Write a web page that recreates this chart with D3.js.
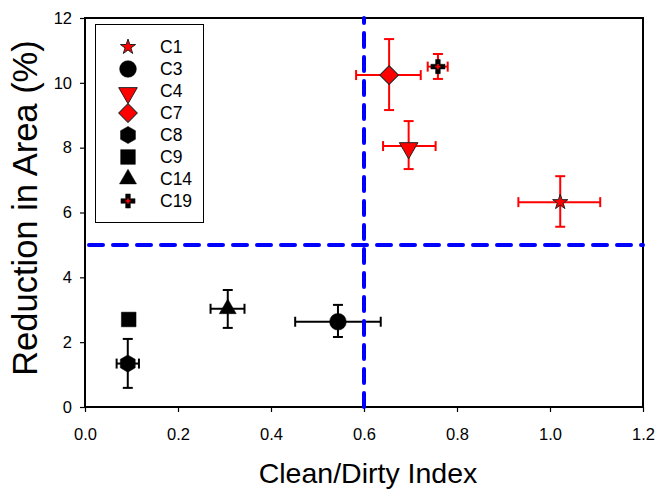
<!DOCTYPE html>
<html lang="en">
<head>
<meta charset="utf-8">
<title>Reduction in Area vs Clean/Dirty Index</title>
<script src="https://cdn.jsdelivr.net/npm/d3@7/dist/d3.min.js"></script>
<style>
  body { margin: 0; background: #fff; }
  text { font-family: "Liberation Sans", Arial, sans-serif; }
</style>
</head>
<body>
<div id="chart"></div>
<script>
// data
var names  = ["C1", "C3", "C4", "C7", "C8", "C9", "C14", "C19"];
var xVals  = [1.022, 0.544, 0.696, 0.654, 0.092, 0.094, 0.307, 0.759];
var yVals  = [6.32, 2.63, 8.05, 10.24, 1.34, 2.70, 3.03, 10.50];
var xLo    = [0.932, 0.452, 0.641, 0.583, 0.068, null, 0.270, 0.737];
var xHi    = [1.108, 0.636, 0.754, 0.722, 0.116, null, 0.343, 0.780];
var yLo    = [5.56, 2.16, 7.34, 9.16, 0.59, null, 2.44, 10.12];
var yHi    = [7.12, 3.15, 8.82, 11.35, 2.10, null, 3.61, 10.89];
var shapes = ["star", "circle", "tridown", "diamond", "hexagon", "square", "triangle", "cross"];
var groupColor = ["red", "black", "red", "red", "black", "black", "black", "red"];

var xTicks = [0.0, 0.2, 0.4, 0.6, 0.8, 1.0, 1.2];
var yTicks = [0, 2, 4, 6, 8, 10, 12];
var xCut = 0.6, yCut = 5;

var W = 657, H = 492;
var margin = {left: 85, right: 14, top: 18, bottom: 85};

var svg = d3.select("#chart").append("svg")
    .attr("width", W).attr("height", H);

var x = d3.scaleLinear().domain([0, 1.2]).range([margin.left, W - margin.right]);
var y = d3.scaleLinear().domain([0, 12]).range([H - margin.bottom, margin.top]);

// axes
var xAxis = svg.append("g")
    .attr("transform", "translate(0," + y(0) + ")")
    .call(d3.axisBottom(x).tickValues(xTicks).tickFormat(d3.format(".1f")).tickSize(5).tickPadding(16));
var yAxis = svg.append("g")
    .attr("transform", "translate(" + x(0) + ",0)")
    .call(d3.axisLeft(y).tickValues(yTicks).tickSize(5).tickPadding(8));
[xAxis, yAxis].forEach(function (a) {
    a.select(".domain").remove();
    a.selectAll("line").attr("stroke", "#000").attr("stroke-width", 1.2);
    a.selectAll("text").attr("font-size", 16.5).attr("fill", "#000")
        .attr("font-family", "Liberation Sans, Arial, sans-serif");
});

// frame
svg.append("rect")
    .attr("x", x(0)).attr("y", y(12))
    .attr("width", x(1.2) - x(0)).attr("height", y(0) - y(12))
    .attr("fill", "none").attr("stroke", "#000").attr("stroke-width", 2);

// axis titles
svg.append("text")
    .attr("x", 368).attr("y", 483)
    .attr("text-anchor", "middle").attr("font-size", 28.5)
    .text("Clean/Dirty Index");
svg.append("text")
    .attr("transform", "translate(37,208) rotate(-90)")
    .attr("text-anchor", "middle").attr("font-size", 34.5)
    .text("Reduction in Area (%)");

// marker shapes
var symSize = {
    star: [d3.symbolStar, 72],
    circle: [d3.symbolCircle, 220],
    tridown: [d3.symbolTriangle, 150],
    triangle: [d3.symbolTriangle, 125],
    diamond: [d3.symbolSquare, 175],
    square: [d3.symbolSquare, 215],
    cross: [d3.symbolCross, 110]
};
function markerPath(shape) {
    if (shape === "hexagon") {
        var r = 8.6, pts = [];
        for (var k = 0; k < 6; k++) {
            var a = Math.PI / 6 + k * Math.PI / 3;
            pts.push(r * Math.cos(a).toFixed(4) + "," + r * Math.sin(a).toFixed(4));
        }
        return "M" + pts.join("L") + "Z";
    }
    return d3.symbol().type(symSize[shape][0]).size(symSize[shape][1])();
}
function drawMarker(g, i, cx, cy) {
    var s = shapes[i];
    var isRed = groupColor[i] === "red" && s !== "cross";
    var t = "translate(" + cx + "," + cy + ")";
    if (s === "tridown") t += " rotate(180) translate(0,-2)";
    if (s === "diamond") t += " rotate(45)";
    g.append("path")
        .attr("d", markerPath(s))
        .attr("transform", t)
        .attr("fill", isRed ? "#ff0000" : "#000")
        .attr("stroke", isRed ? "#222" : "#000")
        .attr("stroke-width", isRed ? 1 : 0.5)
        .attr("stroke-linejoin", "round");
    if (s === "cross") {
        g.append("path")
            .attr("d", d3.symbol().type(d3.symbolCross).size(14)())
            .attr("transform", "translate(" + cx + "," + cy + ")")
            .attr("fill", "#ff0000");
    }
}

// error bars
var cap = 5;
var eb = svg.append("g").attr("stroke-width", 2).attr("fill", "none");
names.forEach(function (n, i) {
    var c = groupColor[i] === "red" ? "#ff0000" : "#000";
    if (xLo[i] !== null) {
        eb.append("line").attr("x1", x(xLo[i])).attr("x2", x(xHi[i]))
            .attr("y1", y(yVals[i])).attr("y2", y(yVals[i])).attr("stroke", c);
        [xLo[i], xHi[i]].forEach(function (v) {
            eb.append("line").attr("x1", x(v)).attr("x2", x(v))
                .attr("y1", y(yVals[i]) - cap).attr("y2", y(yVals[i]) + cap).attr("stroke", c);
        });
    }
    if (yLo[i] !== null) {
        eb.append("line").attr("x1", x(xVals[i])).attr("x2", x(xVals[i]))
            .attr("y1", y(yLo[i])).attr("y2", y(yHi[i])).attr("stroke", c);
        [yLo[i], yHi[i]].forEach(function (v) {
            eb.append("line").attr("x1", x(xVals[i]) - cap).attr("x2", x(xVals[i]) + cap)
                .attr("y1", y(v)).attr("y2", y(v)).attr("stroke", c);
        });
    }
});

// markers
var mk = svg.append("g");
names.forEach(function (n, i) { drawMarker(mk, i, x(xVals[i]), y(yVals[i])); });

// dashed threshold lines
svg.append("line")
    .attr("x1", x(xCut)).attr("x2", x(xCut)).attr("y1", y(0)).attr("y2", y(12))
    .attr("stroke", "#0000ff").attr("stroke-width", 4)
    .attr("stroke-linecap", "round").attr("stroke-dasharray", "14,10");
svg.append("line")
    .attr("x1", x(0) + 4).attr("x2", x(1.2)).attr("y1", y(yCut)).attr("y2", y(yCut))
    .attr("stroke", "#0000ff").attr("stroke-width", 4)
    .attr("stroke-linecap", "round").attr("stroke-dasharray", "14,10");

// legend
var lg = svg.append("g");
lg.append("rect").attr("x", 95.5).attr("y", 24.5).attr("width", 108).attr("height", 198)
    .attr("fill", "#fff").attr("stroke", "#000").attr("stroke-width", 1);
names.forEach(function (n, i) {
    var ly = 47 + i * 22;
    drawMarker(lg, i, 128, ly);
    lg.append("text").attr("x", 160).attr("y", ly + 6.3)
        .attr("font-size", 17.5).text(n);
});
</script>
</body>
</html>
